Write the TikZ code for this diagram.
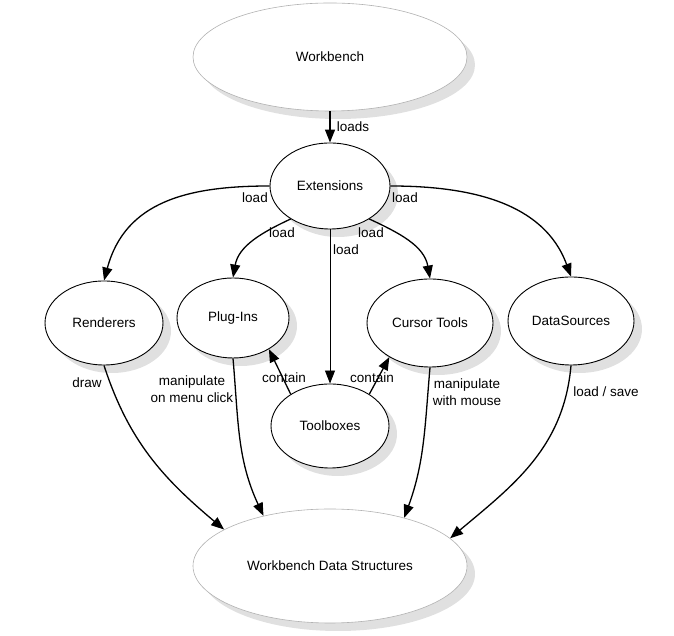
\documentclass[tikz,border=0pt]{standalone}
\usepackage{fontspec}
\setmainfont{Liberation Sans}
\usetikzlibrary{shapes.geometric,arrows.meta,shadows}
\begin{document}
\begin{tikzpicture}[x=1pt,y=1pt,
  blob/.style={ellipse, draw=black, line width=0.9pt, fill=white, inner sep=0pt,
    drop shadow={shadow xshift=8pt, shadow yshift=-8pt, fill=black!12, opacity=1},
    font=\fontsize{13.5}{16}\selectfont},
  bigblob/.style={blob, draw=black!30, line width=0.6pt},
  arr/.style={line width=1.3pt, -{Triangle[length=13pt,width=10pt]}},
  thinarr/.style={arr, line width=0.8pt},
  lbl/.style={font=\fontsize{13.5}{17.5}\selectfont, inner sep=0pt, align=center}]
\useasboundingbox (0,0) rectangle (674,636);
\node[bigblob, minimum width=274pt, minimum height=108pt] (wb) at (330,579) {Workbench};
\node[blob, minimum width=120pt, minimum height=86pt] (ext) at (330,450) {Extensions};
\node[blob, minimum width=118pt, minimum height=84pt] (ren) at (104,313) {Renderers};
\node[blob, minimum width=112pt, minimum height=80pt] (plug) at (233,318) {Plug-Ins};
\node[blob, minimum width=126pt, minimum height=88pt] (cur) at (430,313) {Cursor Tools};
\node[blob, minimum width=126pt, minimum height=88pt] (ds) at (571,315) {DataSources};
\node[blob, minimum width=118pt, minimum height=84pt] (tb) at (330,210) {Toolboxes};
\node[bigblob, minimum width=274pt, minimum height=114pt] (wds) at (330,70) {Workbench Data Structures};

\draw[arr] (wb.south) -- (ext.north);
\draw[arr] (ext.west) to[out=180,in=75,looseness=1.1] (ren.north);
\draw[arr] (ext.220) to[out=205,in=80] (plug.north);
\draw[thinarr] (ext.south) -- (tb.north);
\draw[arr] (ext.320) to[out=-25,in=100] (cur.north);
\draw[arr] (ext.east) to[out=0,in=110] (ds.north);
\draw[arr] (tb.141) -- (plug.319);
\draw[arr] (tb.39) -- (cur.220);
\draw[arr] (ren.south) to[out=-72,in=140] (wds.161);
\draw[arr] (plug.south) to[out=-85,in=115] (wds.143);
\draw[arr] (cur.south) to[out=-95,in=70] (wds.33);
\draw[arr] (ds.south) to[out=-95,in=40] (wds.13);

\node[lbl] (l0) at (353,509) {loads};
\node[lbl] (l1) at (255,438) {load};
\node[lbl] (l2) at (282,403) {load};
\node[lbl] (l3) at (346,386) {load};
\node[lbl] (l4) at (371,403) {load};
\node[lbl] (l5) at (405,438) {load};
\node[lbl] (c1) at (284,258) {contain};
\node[lbl] (c2) at (372,258) {contain};
\node[lbl] (dr) at (87,253) {draw};
\node[lbl] (m1) at (192,247) {manipulate\\on menu click};
\node[lbl] (m2) at (467,244) {manipulate\\with mouse};
\node[lbl] (ls) at (606,244) {load / save};
\end{tikzpicture}
\end{document}
